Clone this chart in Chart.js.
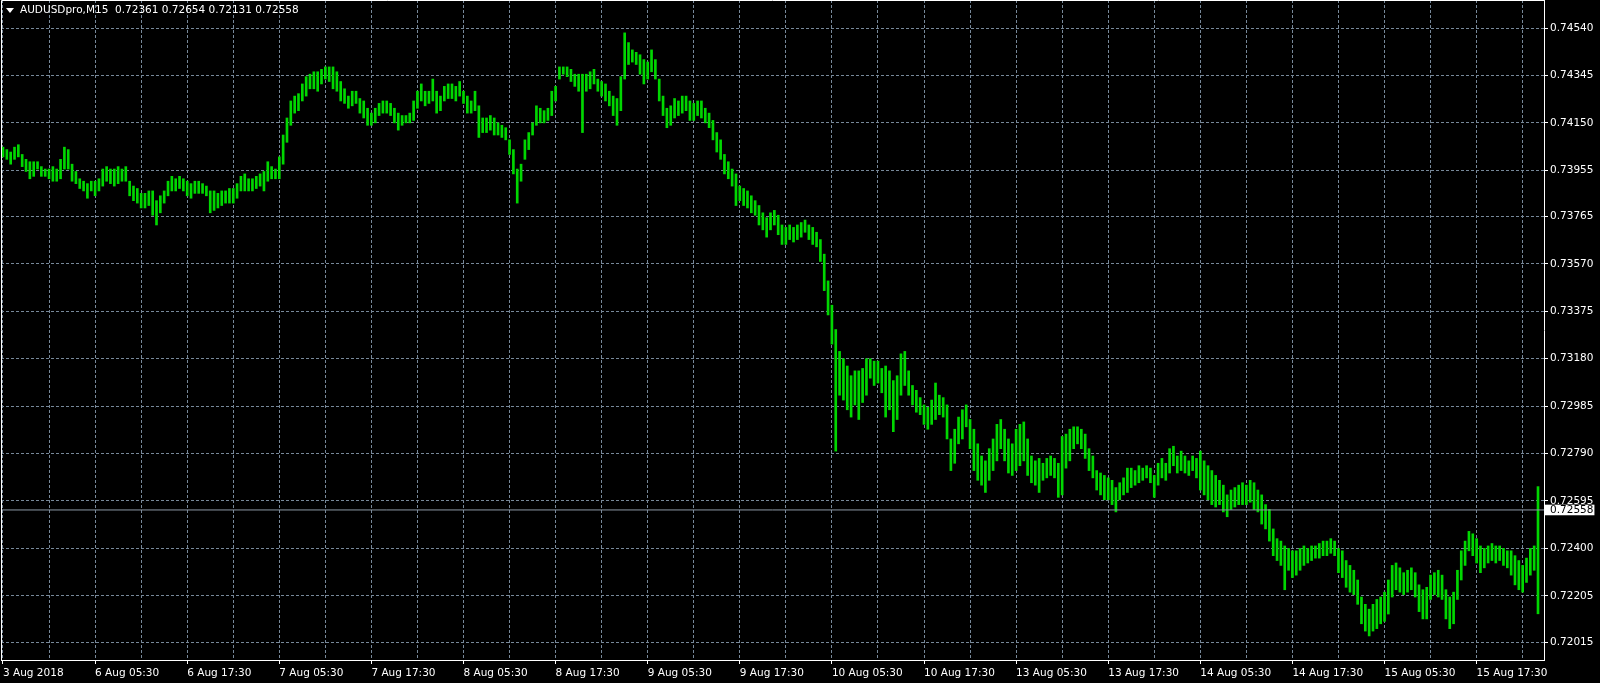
<!DOCTYPE html>
<html>
<head>
<meta charset="utf-8">
<script src="https://cdn.jsdelivr.net/npm/chart.js@4.4.0/dist/chart.umd.min.js"></script>
<style>
  html, body { margin: 0; padding: 0; background: #000; }
  #wrap { position: relative; width: 1600px; height: 683px; background: #000; }
  #title { position: absolute; left: 20px; top: 3px; font: 10.5px "DejaVu Sans", sans-serif; color: #fff; white-space: pre; line-height: 13px; }
  #tri { position: absolute; left: 6px; top: 8px; width: 0; height: 0; border-left: 4px solid transparent; border-right: 4px solid transparent; border-top: 5px solid #fff; }
</style>
</head>
<body>
<div id="wrap">
  <canvas id="chart" width="1600" height="683"></canvas>
  <div id="tri"></div>
  <div id="title">AUDUSDpro,M15  0.72361 0.72654 0.72131 0.72558</div>
</div>
<script>
// time labels, one every 24 bars (each bar here = 30 min of the M15 chart)
const dateLabels = ['3 Aug 2018', '6 Aug 05:30', '6 Aug 17:30', '7 Aug 05:30', '7 Aug 17:30', '8 Aug 05:30',
  '8 Aug 17:30', '9 Aug 05:30', '9 Aug 17:30', '10 Aug 05:30', '10 Aug 17:30', '13 Aug 05:30',
  '13 Aug 17:30', '14 Aug 05:30', '14 Aug 17:30', '15 Aug 05:30', '15 Aug 17:30'];
const priceLabels = ['0.74540', '0.74345', '0.74150', '0.73955', '0.73765', '0.73570', '0.73375',
  '0.73180', '0.72985', '0.72790', '0.72595', '0.72400', '0.72205', '0.72015'];
const lastClose = 0.72558;

const highs = [
  0.7405,0.7404,0.7403,0.7405,0.7406,0.7402,0.7400,0.7399,0.7399,0.7399,0.7397,0.7396,
  0.7396,0.7397,0.7396,0.7400,0.7405,0.7404,0.7398,0.7395,0.7392,0.7391,0.7390,0.7391,
  0.7391,0.7392,0.7396,0.7397,0.7396,0.7396,0.7397,0.7396,0.7397,0.7391,0.7389,0.7388,
  0.7386,0.7386,0.7387,0.7387,0.7383,0.7385,0.7387,0.7391,0.7393,0.7392,0.7393,0.7392,
  0.7391,0.7390,0.7391,0.7391,0.7390,0.7389,0.7387,0.7387,0.7386,0.7387,0.7387,0.7388,
  0.7388,0.7390,0.7393,0.7394,0.7392,0.7392,0.7393,0.7394,0.7395,0.7399,0.7397,0.7396,
  0.7401,0.7410,0.7417,0.7424,0.7426,0.7427,0.7431,0.7434,0.7435,0.7436,0.7436,0.7437,
  0.7438,0.7438,0.7438,0.7436,0.7432,0.7429,0.7426,0.7428,0.7428,0.7425,0.7424,0.7421,
  0.7419,0.7421,0.7423,0.7424,0.7424,0.7423,0.7421,0.7419,0.7418,0.7418,0.7419,0.7424,
  0.7428,0.7431,0.7428,0.7428,0.7433,0.7428,0.7426,0.7430,0.7431,0.7431,0.7430,0.7432,
  0.7428,0.7426,0.7424,0.7428,0.7422,0.7417,0.7417,0.7418,0.7417,0.7415,0.7414,0.7413,
  0.7408,0.7404,0.7396,0.7398,0.7408,0.7411,0.7415,0.7422,0.7421,0.7420,0.7421,0.7428,
  0.7430,0.7438,0.7438,0.7438,0.7437,0.7435,0.7435,0.7435,0.7435,0.7436,0.7437,0.7433,
  0.7432,0.7431,0.7428,0.7426,0.7425,0.7434,0.7452,0.7448,0.7445,0.7444,0.7443,0.7441,
  0.7440,0.7445,0.7441,0.7433,0.7426,0.7421,0.7422,0.7425,0.7424,0.7426,0.7426,0.7424,
  0.7423,0.7424,0.7424,0.7421,0.7419,0.7416,0.7411,0.7408,0.7402,0.7399,0.7396,0.7394,
  0.7389,0.7388,0.7387,0.7385,0.7383,0.7381,0.7378,0.7376,0.7378,0.7379,0.7377,0.7373,
  0.7372,0.7373,0.7372,0.7373,0.7374,0.7375,0.7373,0.7372,0.7370,0.7367,0.7361,0.7350,
  0.7340,0.7330,0.7321,0.7318,0.7315,0.7311,0.7313,0.7313,0.7314,0.7318,0.7318,0.7317,
  0.7317,0.7314,0.7315,0.7313,0.7309,0.7311,0.7320,0.7321,0.7313,0.7307,0.7305,0.7302,
  0.7299,0.7298,0.7301,0.7308,0.7303,0.7302,0.7299,0.7285,0.7289,0.7294,0.7297,0.7299,
  0.7293,0.7289,0.7283,0.7278,0.7276,0.7281,0.7285,0.7291,0.7293,0.7289,0.7285,0.7283,
  0.7289,0.7291,0.7292,0.7285,0.7278,0.7276,0.7277,0.7275,0.7277,0.7278,0.7277,0.7275,
  0.7286,0.7287,0.7289,0.7290,0.7290,0.7289,0.7287,0.7281,0.7278,0.7272,0.7271,0.7270,
  0.7269,0.7268,0.7265,0.7267,0.7269,0.7273,0.7273,0.7272,0.7274,0.7273,0.7274,0.7273,
  0.7270,0.7275,0.7277,0.7275,0.7281,0.7282,0.7278,0.7280,0.7278,0.7276,0.7278,0.7277,
  0.7280,0.7276,0.7274,0.7272,0.7270,0.7268,0.7266,0.7262,0.7264,0.7265,0.7266,0.7267,
  0.7266,0.7268,0.7267,0.7264,0.7262,0.7258,0.7256,0.7248,0.7244,0.7243,0.7241,0.7240,
  0.7239,0.7239,0.7240,0.7241,0.7240,0.7241,0.7241,0.7242,0.7243,0.7243,0.7244,0.7243,
  0.7240,0.7239,0.7235,0.7233,0.7231,0.7227,0.7220,0.7217,0.7215,0.7217,0.7219,0.7220,
  0.7222,0.7227,0.7233,0.7234,0.7232,0.7230,0.7231,0.7232,0.7230,0.7225,0.7223,0.7224,
  0.7229,0.7230,0.7231,0.7229,0.7223,0.7220,0.7222,0.7231,0.7239,0.7243,0.7247,0.7246,
  0.7244,0.7241,0.7240,0.7241,0.7242,0.7241,0.7241,0.7240,0.7239,0.7239,0.7237,0.7235,
  0.7233,0.7236,0.7240,0.7241,0.72654
];
const lows = [
  0.7401,0.7400,0.7398,0.7400,0.7401,0.7397,0.7395,0.7392,0.7393,0.7396,0.7393,0.7393,
  0.7392,0.7391,0.7391,0.7392,0.7396,0.7396,0.7391,0.7390,0.7388,0.7387,0.7384,0.7387,
  0.7385,0.7387,0.7389,0.7391,0.7390,0.7389,0.7390,0.7391,0.7391,0.7385,0.7383,0.7382,
  0.7380,0.7380,0.7381,0.7377,0.7373,0.7378,0.7382,0.7385,0.7387,0.7387,0.7388,0.7387,
  0.7385,0.7384,0.7386,0.7386,0.7386,0.7385,0.7378,0.7379,0.7380,0.7381,0.7382,0.7382,
  0.7382,0.7384,0.7387,0.7387,0.7387,0.7387,0.7388,0.7389,0.7387,0.7391,0.7392,0.7392,
  0.7392,0.7398,0.7407,0.7414,0.7419,0.7420,0.7424,0.7426,0.7429,0.7429,0.7428,0.7431,
  0.7433,0.7432,0.7429,0.7428,0.7424,0.7423,0.7421,0.7422,0.7423,0.7419,0.7417,0.7414,
  0.7414,0.7415,0.7418,0.7419,0.7419,0.7418,0.7415,0.7412,0.7414,0.7415,0.7415,0.7416,
  0.7421,0.7424,0.7422,0.7423,0.7424,0.7419,0.7420,0.7424,0.7425,0.7425,0.7424,0.7426,
  0.7423,0.7419,0.7419,0.7420,0.7409,0.7411,0.7411,0.7412,0.7410,0.7410,0.7409,0.7408,
  0.7402,0.7394,0.7382,0.7391,0.7400,0.7404,0.7410,0.7414,0.7415,0.7415,0.7416,0.7418,
  0.7424,0.7433,0.7435,0.7434,0.7432,0.7430,0.7428,0.7411,0.7428,0.7429,0.7431,0.7428,
  0.7426,0.7424,0.7422,0.7418,0.7414,0.7420,0.7433,0.7439,0.7440,0.7439,0.7435,0.7431,
  0.7433,0.7436,0.7433,0.7424,0.7418,0.7413,0.7414,0.7417,0.7418,0.7419,0.7420,0.7416,
  0.7416,0.7418,0.7417,0.7415,0.7413,0.7408,0.7403,0.7400,0.7394,0.7392,0.7389,0.7381,
  0.7383,0.7381,0.7380,0.7378,0.7377,0.7373,0.7371,0.7368,0.7371,0.7373,0.7369,0.7365,
  0.7365,0.7367,0.7366,0.7367,0.7368,0.7370,0.7367,0.7365,0.7364,0.7358,0.7346,0.7336,
  0.7324,0.7280,0.7303,0.7301,0.7297,0.7294,0.7299,0.7293,0.7300,0.7303,0.7310,0.7307,
  0.7308,0.7304,0.7294,0.7297,0.7288,0.7293,0.7303,0.7307,0.7303,0.7299,0.7296,0.7295,
  0.7291,0.7289,0.7291,0.7293,0.7295,0.7294,0.7285,0.7272,0.7275,0.7283,0.7285,0.7290,
  0.7281,0.7272,0.7268,0.7266,0.7263,0.7268,0.7272,0.7276,0.7281,0.7276,0.7271,0.7270,
  0.7272,0.7274,0.7276,0.7270,0.7267,0.7266,0.7263,0.7268,0.7269,0.7270,0.7269,0.7261,
  0.7262,0.7273,0.7276,0.7281,0.7283,0.7281,0.7277,0.7272,0.7269,0.7264,0.7262,0.7260,
  0.7260,0.7258,0.7255,0.7260,0.7262,0.7263,0.7265,0.7266,0.7267,0.7268,0.7269,0.7267,
  0.7261,0.7266,0.7269,0.7268,0.7271,0.7274,0.7271,0.7272,0.7271,0.7270,0.7272,0.7269,
  0.7264,0.7262,0.7260,0.7258,0.7257,0.7258,0.7255,0.7253,0.7256,0.7257,0.7258,0.7258,
  0.7258,0.7259,0.7256,0.7255,0.7250,0.7248,0.7243,0.7237,0.7235,0.7233,0.7223,0.7231,
  0.7228,0.7229,0.7231,0.7233,0.7234,0.7235,0.7236,0.7236,0.7237,0.7237,0.7238,0.7237,
  0.7230,0.7228,0.7224,0.7222,0.7221,0.7217,0.7209,0.7206,0.7204,0.7206,0.7207,0.7209,
  0.7210,0.7213,0.7220,0.7223,0.7222,0.7221,0.7222,0.7223,0.7220,0.7214,0.7211,0.7211,
  0.7219,0.7221,0.7220,0.7219,0.7211,0.7207,0.7209,0.7219,0.7227,0.7233,0.7239,0.7237,
  0.7234,0.7230,0.7232,0.7234,0.7235,0.7234,0.7235,0.7233,0.7232,0.7229,0.7225,0.7223,
  0.7222,0.7226,0.7229,0.7231,0.72131
];

const green = 'rgb(0, 215, 0)';
const gridColor = '#778899';
const font = { family: 'DejaVu Sans', size: 10.5 };

const yTickValues = priceLabels.map(Number).concat(lastClose);
const yTickTexts = priceLabels.concat(lastClose.toFixed(5));
const isLast = c => c.tick && c.tick.value === lastClose;

const bars = highs.map((h, i) => ({ x: i, y: [lows[i], h] }));

// white frame on the top and left sides of the plot (right/bottom come from the axes)
const frame = {
  id: 'frame',
  afterDraw(chart) {
    const { ctx, chartArea: a } = chart;
    ctx.save();
    ctx.strokeStyle = '#fff';
    ctx.lineWidth = 1;
    ctx.beginPath();
    ctx.moveTo(a.left + 0.5, a.bottom);
    ctx.lineTo(a.left + 0.5, a.top + 0.5);
    ctx.lineTo(a.right, a.top + 0.5);
    ctx.stroke();
    ctx.restore();
  }
};

new Chart(document.getElementById('chart'), {
  type: 'bar',
  data: {
    datasets: [
      {
        type: 'line',
        data: [{ x: -1, y: lastClose }, { x: 403, y: lastClose }],
        borderColor: '#8d99a6',
        borderWidth: 1,
        pointRadius: 0,
        order: 0
      },
      {
        type: 'bar',
        data: bars,
        backgroundColor: green,
        barThickness: 2,
        borderWidth: 0,
        grouped: false,
        order: 1
      }
    ]
  },
  options: {
    responsive: false,
    animation: false,
    devicePixelRatio: 1,
    events: [],
    layout: { padding: { left: 1, top: 0, right: 0, bottom: 0 } },
    plugins: { legend: { display: false }, tooltip: { enabled: false } },
    scales: {
      x: {
        type: 'linear',
        min: -0.521,
        max: 401.56,
        offset: false,
        afterBuildTicks: s => {
          s.ticks = [];
          for (let v = 0; v <= 396; v += 12) s.ticks.push({ value: v });
        },
        afterFit: s => { s.height = 23; s.paddingLeft = 0; s.paddingRight = 0; },
        grid: {
          offset: false,
          color: gridColor,
          tickLength: 4,
          tickColor: c => (c.tick && c.tick.value % 24 === 0) ? '#fff' : 'rgba(0,0,0,0)'
        },
        border: { display: true, color: '#fff', width: 1, dash: [3, 2] },
        ticks: {
          autoSkip: false,
          maxRotation: 0,
          align: 'start',
          padding: 3,
          color: '#fff',
          font,
          callback: v => (v % 24 === 0 ? dateLabels[v / 24] : '')
        }
      },
      y: {
        type: 'linear',
        position: 'right',
        min: 0.71941,
        max: 0.746552,
        afterBuildTicks: s => { s.ticks = yTickValues.map(v => ({ value: v })); },
        afterFit: s => { s.width = 56; s.paddingTop = 0; s.paddingBottom = 0; },
        grid: {
          color: c => isLast(c) ? 'rgba(0,0,0,0)' : gridColor,
          tickLength: 4,
          tickColor: c => isLast(c) ? 'rgba(0,0,0,0)' : '#fff'
        },
        border: { display: true, color: '#fff', width: 1, dash: [3, 2] },
        ticks: {
          autoSkip: false,
          padding: 2,
          font,
          color: c => isLast(c) ? '#000' : '#fff',
          showLabelBackdrop: c => isLast(c),
          backdropColor: '#fff',
          backdropPadding: { top: -1, bottom: -1, left: 5, right: 1 },
          callback: (v, i) => yTickTexts[i]
        }
      }
    }
  },
  plugins: [frame]
});
</script>
</body>
</html>
